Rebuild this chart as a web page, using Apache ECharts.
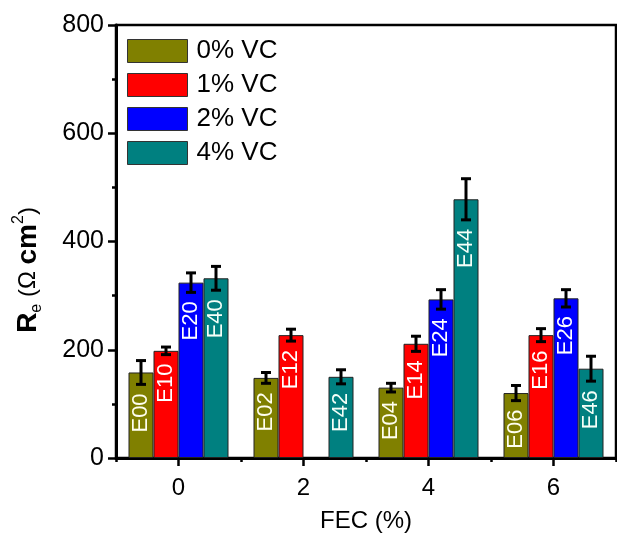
<!DOCTYPE html>
<html>
<head>
<meta charset="utf-8">
<script src="https://cdn.jsdelivr.net/npm/echarts@6/dist/echarts.min.js"></script>
<style>
html,body{margin:0;padding:0;background:#fff;}
#chart{width:617px;height:538px;}
</style>
</head>
<body>
<div id="chart"></div>
<script>
// ---- data ----
const categories = ['0', '2', '4', '6'];
const seriesNames = ['0% VC', '1% VC', '2% VC', '4% VC'];
const values0 = [158, 148, 130, 120];
const values1 = [198, 227, 211, 227];
const values2 = [324, null, 293, 295];
const values3 = [332, 150, 478, 165];
const errors0 = [22, 10, 8, 14];
const errors1 = [7, 11, 14, 12];
const errors2 = [18, null, 18, 16];
const errors3 = [22, 13, 38, 23];
const labels0 = ['E00', 'E02', 'E04', 'E06'];
const labels1 = ['E10', 'E12', 'E14', 'E16'];
const labels2 = ['E20', null, 'E24', 'E26'];
const labels3 = ['E40', 'E42', 'E44', 'E46'];
const yTicks = [0, 200, 400, 600, 800];

const colors = ['#808000', '#ff0000', '#0000ff', '#008080'];
const labelColors = ['#fffff0', '#ffffff', '#ffffff', '#f4fff8'];
const allValues = [values0, values1, values2, values3];
const allErrors = [errors0, errors1, errors2, errors3];
const allLabels = [labels0, labels1, labels2, labels3];
const FONT = 'Liberation Sans, Arial, sans-serif';

const chart = echarts.init(document.getElementById('chart'), null, {renderer: 'canvas'});

const barSeries = seriesNames.map((name, k) => ({
  name: name,
  type: 'bar',
  xAxisIndex: 0,
  data: allValues[k],
  barGap: '0%',
  barCategoryGap: '20%',
  itemStyle: {color: colors[k], borderColor: '#222', borderWidth: 1},
  z: 2
}));

const errSeries = seriesNames.map((name, k) => ({
  name: name,
  type: 'custom',
  xAxisIndex: 0,
  z: 4,
  itemStyle: {color: colors[k]},
  encode: {x: 0, y: 1},
  data: allValues[k].map((v, i) => [i, v == null ? '-' : v, allErrors[k][i] == null ? '-' : allErrors[k][i]]),
  renderItem: function (params, api) {
    const ci = api.value(0), v = api.value(1), e = api.value(2);
    if (isNaN(v)) return null;
    const band = api.size([1, 0])[0];
    const bw = band * 0.2;
    const x = api.coord([ci, 0])[0] + (k - 1.5) * bw;
    const yHi = api.coord([ci, v + e])[1];
    const yLo = api.coord([ci, v - e])[1];
    const cap = 5;
    const ls = {stroke: '#000', lineWidth: 3};
    const lbl = allLabels[k][params.dataIndex];
    const children = [
      {type: 'line', shape: {x1: x, y1: yHi, x2: x, y2: yLo}, style: ls},
      {type: 'line', shape: {x1: x - cap, y1: yHi, x2: x + cap, y2: yHi}, style: ls},
      {type: 'line', shape: {x1: x - cap, y1: yLo, x2: x + cap, y2: yLo}, style: ls}
    ];
    if (lbl) {
      children.push({
        type: 'text', x: x, y: yLo + 9, rotation: Math.PI / 2,
        style: {text: lbl, fill: labelColors[k], fontSize: 22, fontFamily: FONT,
                align: 'right', verticalAlign: 'middle'}
      });
    }
    return {type: 'group', children: children};
  }
}));

const option = {
  animation: false,
  textStyle: {fontFamily: FONT},
  grid: {left: 116, right: 1, top: 25, bottom: 74, show: true,
         borderColor: '#000', borderWidth: 2.5, backgroundColor: 'transparent'},
  legend: {
    data: seriesNames, orient: 'vertical', left: 127, top: 38, padding: 0,
    itemWidth: 60, itemHeight: 23, itemGap: 8, icon: 'rect',
    itemStyle: {borderColor: '#333', borderWidth: 1},
    textStyle: {fontSize: 26, color: '#000', fontFamily: FONT, padding: [0, 0, 0, 4]},
    selectedMode: false
  },
  xAxis: [
    {
      type: 'category', data: categories, boundaryGap: true, position: 'bottom',
      axisLine: {lineStyle: {color: '#000', width: 3}},
      axisTick: {show: true, length: 4, lineStyle: {color: '#000', width: 2.5}},
      axisLabel: {show: false},
      splitLine: {show: false},
      name: 'FEC (%)', nameLocation: 'middle', nameGap: 51,
      nameTextStyle: {fontSize: 24, color: '#000', fontFamily: FONT}
    },
    {
      type: 'category', data: categories, boundaryGap: true, position: 'bottom',
      axisLine: {show: false},
      axisTick: {show: true, alignWithLabel: true, length: 8, lineStyle: {color: '#000', width: 2.5}},
      axisLabel: {fontSize: 24, color: '#000', margin: 18, fontFamily: FONT},
      splitLine: {show: false}
    }
  ],
  yAxis: {
    type: 'value', min: yTicks[0], max: yTicks[yTicks.length - 1], interval: yTicks[1] - yTicks[0],
    axisLine: {show: true, lineStyle: {color: '#000', width: 3}},
    axisTick: {show: true, length: 8, lineStyle: {color: '#000', width: 2.5}},
    minorTick: {show: true, splitNumber: 2, length: 4, lineStyle: {color: '#000', width: 2.5}},
    axisLabel: {fontSize: 25, color: '#000', margin: 12, fontFamily: FONT},
    splitLine: {show: false}, minorSplitLine: {show: false}
  },
  graphic: [{
    type: 'text', x: 28, y: 270, rotation: Math.PI / 2, z: 10,
    style: {
      text: '{b|R}{s|e}{n| (Ω }{b|cm}{p|2}{n|)}',
      align: 'center', verticalAlign: 'middle', fill: '#000',
      rich: {
        b: {fontSize: 28, fontWeight: 'bold', fontFamily: FONT, lineHeight: 34, fill: '#000'},
        n: {fontSize: 24, fontFamily: FONT, lineHeight: 34, fill: '#000'},
        s: {fontSize: 16, fontFamily: FONT, lineHeight: 16, verticalAlign: 'bottom', fill: '#000'},
        p: {fontSize: 16, fontFamily: FONT, lineHeight: 16, verticalAlign: 'top', fill: '#000'}
      }
    }
  }],
  series: barSeries.concat(errSeries)
};
chart.setOption(option);
</script>
</body>
</html>
